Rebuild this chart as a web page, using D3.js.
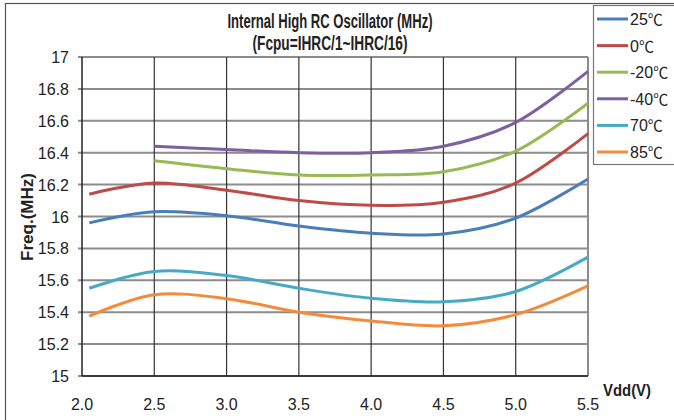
<!DOCTYPE html>
<html>
<head>
<meta charset="utf-8">
<script src="https://cdn.jsdelivr.net/npm/d3@7"></script>
<style>
  body { margin: 0; background: #fff; }
  svg { display: block; font-family: "Liberation Sans", Arial, sans-serif; }
</style>
</head>
<body>
<div id="chart"></div>
<script>
// Data
const vdd = [2.05, 2.5, 3.0, 3.5, 4.0, 4.5, 5.0, 5.5];
const seriesNames = ["25", "0", "-20", "-40", "70", "85"];
const freq25  = [15.96, 16.03, 16.005, 15.94, 15.895, 15.89, 15.99, 16.235];
const freq0   = [16.14, 16.21, 16.165, 16.10, 16.07, 16.09, 16.21, 16.52];
const freqM20 = [null, 16.35, 16.30, 16.26, 16.26, 16.28, 16.41, 16.71];
const freqM40 = [null, 16.44, 16.42, 16.40, 16.40, 16.44, 16.59, 16.91];
const freq70  = [15.55, 15.655, 15.63, 15.55, 15.487, 15.465, 15.53, 15.745];
const freq85  = [15.375, 15.51, 15.485, 15.40, 15.345, 15.315, 15.385, 15.565];
const seriesColors = ["#4a7ebb", "#be4b48", "#98b954", "#7d60a0", "#46aac5", "#f38b3c"];
const xTicks = [2.0, 2.5, 3.0, 3.5, 4.0, 4.5, 5.0, 5.5];
const yTicks = [15, 15.2, 15.4, 15.6, 15.8, 16, 16.2, 16.4, 16.6, 16.8, 17];

const series = [freq25, freq0, freqM20, freqM40, freq70, freq85].map((vals, i) => ({
  name: seriesNames[i],
  color: seriesColors[i],
  points: vals.map((v, j) => ({x: vdd[j], y: v}))
}));

// Layout
const W = 674, H = 420;
const margin = {top: 57, right: 86, bottom: 44, left: 82};
const width = W - margin.left - margin.right,
      height = H - margin.top - margin.bottom;

const x = d3.scaleLinear().domain([2.0, 5.5]).range([0, width]);
const y = d3.scaleLinear().domain([15, 17]).range([height, 0]);

const svg = d3.select("#chart").append("svg")
    .attr("width", W)
    .attr("height", H);

// Outer frame
svg.append("rect")
    .attr("x", 5.5).attr("y", 3.5)
    .attr("width", W).attr("height", H)
    .attr("fill", "none")
    .attr("stroke", "#555")
    .attr("stroke-width", 1.2);

const g = svg.append("g")
    .attr("transform", `translate(${margin.left}, ${margin.top})`);

// Horizontal grid (gray)
g.append("g")
  .selectAll("line")
  .data(yTicks)
  .join("line")
    .attr("x1", -4).attr("x2", width)
    .attr("y1", d => y(d)).attr("y2", d => y(d))
    .attr("stroke", "#8c8c8c")
    .attr("stroke-width", 2);

// Vertical grid (dark)
g.append("g")
  .selectAll("line")
  .data(xTicks.slice(1, -1))
  .join("line")
    .attr("x1", d => x(d)).attr("x2", d => x(d))
    .attr("y1", 0).attr("y2", height)
    .attr("stroke", "#333")
    .attr("stroke-width", 1.2);

// right border
g.append("line")
    .attr("x1", width).attr("x2", width)
    .attr("y1", 0).attr("y2", height)
    .attr("stroke", "#8c8c8c").attr("stroke-width", 2);

// Axes lines
g.append("line")
    .attr("x1", 0).attr("x2", 0).attr("y1", 0).attr("y2", height)
    .attr("stroke", "#222").attr("stroke-width", 1.5);
g.append("line")
    .attr("x1", 0).attr("x2", width).attr("y1", height).attr("y2", height)
    .attr("stroke", "#222").attr("stroke-width", 1.5);

// Axis tick labels
g.append("g")
  .selectAll("text")
  .data(yTicks)
  .join("text")
    .attr("x", -13)
    .attr("y", d => y(d) + 6)
    .attr("text-anchor", "end")
    .attr("font-size", 16)
    .attr("fill", "#222")
    .text(d => d3.format("")(d));

g.append("g")
  .selectAll("text")
  .data(xTicks)
  .join("text")
    .attr("x", d => x(d))
    .attr("y", height + 34)
    .attr("text-anchor", "middle")
    .attr("font-size", 16)
    .attr("fill", "#222")
    .text(d => d3.format(".1f")(d));

// Lines
const line = d3.line()
    .defined(d => d.y !== null)
    .x(d => x(d.x))
    .y(d => y(d.y))
    .curve(d3.curveCardinal);

g.append("g")
  .selectAll("path")
  .data(series)
  .join("path")
    .attr("d", d => line(d.points))
    .attr("fill", "none")
    .attr("stroke", d => d.color)
    .attr("stroke-width", 3);

// Titles
svg.append("text")
    .attr("x", 330).attr("y", 28)
    .attr("text-anchor", "middle")
    .attr("font-size", 20).attr("font-weight", "bold")
    .attr("textLength", 205).attr("lengthAdjust", "spacingAndGlyphs")
    .attr("fill", "#222")
    .text("Internal High RC Oscillator (MHz)");
svg.append("text")
    .attr("x", 330).attr("y", 50)
    .attr("text-anchor", "middle")
    .attr("font-size", 20).attr("font-weight", "bold")
    .attr("textLength", 155).attr("lengthAdjust", "spacingAndGlyphs")
    .attr("fill", "#222")
    .text("(Fcpu=IHRC/1~IHRC/16)");

svg.append("text")
    .attr("transform", "translate(33, 217) rotate(-90)")
    .attr("text-anchor", "middle")
    .attr("font-size", 17).attr("font-weight", "bold")
    .attr("textLength", 88).attr("lengthAdjust", "spacingAndGlyphs")
    .attr("fill", "#222")
    .text("Freq.(MHz)");

svg.append("text")
    .attr("x", 603).attr("y", 396)
    .attr("font-size", 16).attr("font-weight", "bold")
    .attr("textLength", 48).attr("lengthAdjust", "spacingAndGlyphs")
    .attr("fill", "#222")
    .text("Vdd(V)");

// Legend
const legendG = svg.append("g");
legendG.append("rect")
    .attr("x", 593.5).attr("y", 5.5)
    .attr("width", 90).attr("height", 159)
    .attr("fill", "#fff")
    .attr("stroke", "#777")
    .attr("stroke-width", 1.2);

const legend = legendG.selectAll(".legend")
  .data(series)
  .join("g")
    .attr("class", "legend")
    .attr("transform", (d, i) => `translate(597, ${19 + 26.6 * i})`);

legend.append("line")
    .attr("x1", 0).attr("x2", 31)
    .attr("stroke", d => d.color)
    .attr("stroke-width", 3);

const legendText = legend.append("text")
    .attr("x", 33).attr("y", 6)
    .attr("font-size", 16)
    .attr("fill", "#222");
legendText.append("tspan").text(d => d.name);
legendText.append("tspan")
    .attr("font-family", "'Noto Sans CJK SC', sans-serif")
    .attr("font-size", 15)
    .text("℃");
</script>
</body>
</html>
